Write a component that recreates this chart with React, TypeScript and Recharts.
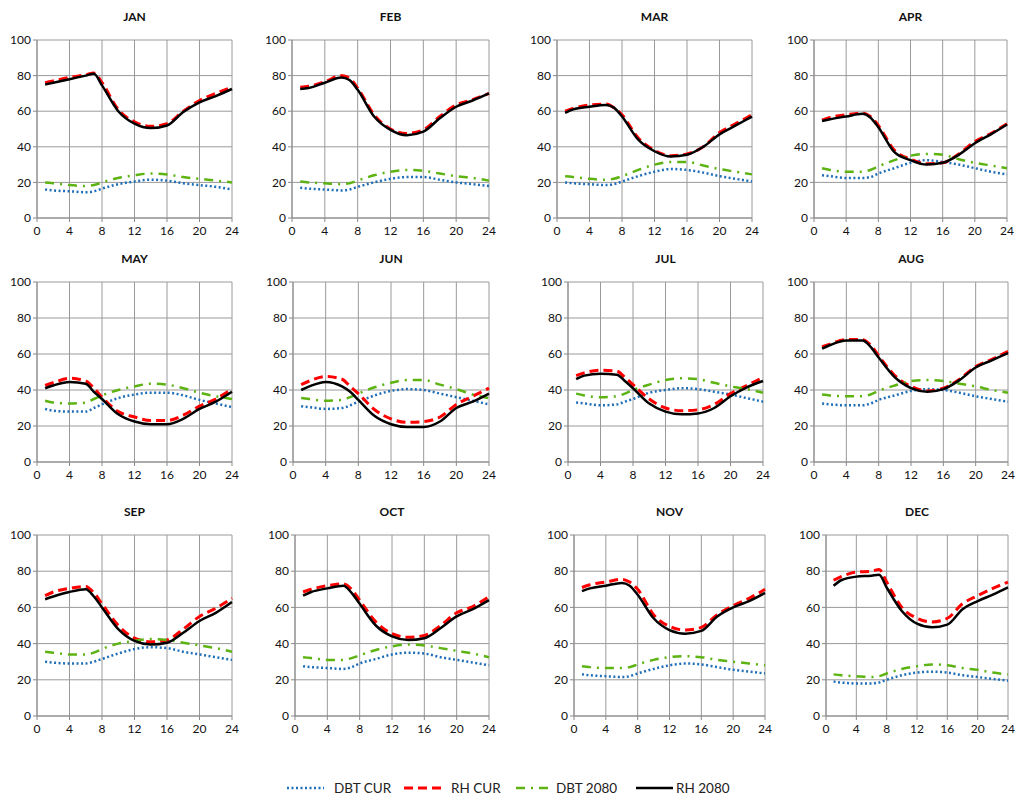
import { LineChart, Line, XAxis, YAxis, CartesianGrid } from 'recharts';

// hours sampled along each daily profile
const HOURS = [1, 2, 4, 6, 7, 8, 10, 12, 14, 16, 18, 20, 22, 24];
const MONTHS = ['JAN', 'FEB', 'MAR', 'APR', 'MAY', 'JUN', 'JUL', 'AUG', 'SEP', 'OCT', 'NOV', 'DEC'];
const X_TICKS = [0, 4, 8, 12, 16, 20, 24];
const Y_TICKS = [0, 20, 40, 60, 80, 100];

const DBT_CUR = [
  [16, 15.5, 15, 14.5, 15, 16.5, 19, 20.5, 21.5, 21, 19.5, 18.5, 17.5, 16],
  [17, 16.5, 16, 15.5, 16, 17.5, 20, 22, 23, 23, 21.5, 20, 19, 18],
  [20, 19.5, 19, 18.5, 19, 20.5, 23.5, 26, 27.5, 27, 25.5, 23.5, 22, 20.5],
  [24, 23.5, 22.5, 22.5, 23, 25, 28, 31, 32.5, 31.5, 30, 28, 26, 24.5],
  [29.5, 28.5, 28, 28, 30, 32, 35.5, 37.5, 38.5, 38.5, 37, 34.5, 32.5, 30.5],
  [31, 30.5, 29.5, 30, 31.5, 33.5, 37, 39.5, 40.5, 40, 38, 36, 34, 32],
  [33, 32.5, 31.5, 32, 33.5, 35, 38.5, 40, 41, 40.5, 39, 37.5, 35.5, 33.5],
  [32.5, 32, 31.5, 31.5, 32.5, 34.5, 37, 39.5, 40.5, 40, 38.5, 36.5, 35, 33.5],
  [30, 29.5, 29, 29, 30, 31.5, 34.5, 37, 38, 37.5, 35.5, 34, 32.5, 31],
  [27.5, 27, 26.5, 26, 27, 29, 31.5, 34, 35, 34.5, 32.5, 31, 29.5, 28],
  [23, 22.5, 22, 21.5, 22, 23.5, 26, 28, 29, 28.5, 27, 25.5, 24.5, 23.5],
  [19, 18.5, 18, 18, 18.5, 20, 22.5, 24, 24.5, 24, 22.5, 21.5, 20.5, 19.5],
];

const RH_CUR = [
  [76, 77, 79, 80.5, 81.5, 76, 61, 54, 51.5, 53, 60, 66, 70, 73.5],
  [73.5, 74, 76.5, 80, 78.5, 73, 58, 50, 47.5, 49.5, 57, 63.5, 66.5, 70],
  [60, 61.5, 63.5, 64, 62, 58, 45, 38, 35, 36, 40, 48, 53, 58],
  [55, 56.5, 58, 59, 57, 52, 38, 33, 30.5, 31, 36, 43, 47.5, 53],
  [42.5, 44, 46.5, 45, 41, 36, 28, 25, 23, 23, 26, 31, 35, 40.5],
  [43, 45, 47.5, 46, 42, 38, 29, 24, 22, 22.5, 25, 32, 36.5, 41],
  [48, 49.5, 51, 50.5, 47, 43, 35, 30, 28.5, 29, 32, 38, 42.5, 47],
  [64, 65.5, 68, 68, 65, 59, 48, 42, 39.5, 41, 46, 53, 57, 61.5],
  [66.5, 68.5, 70.5, 71.5, 68, 62, 50, 43, 41, 42, 48, 55, 59.5, 65],
  [68.5, 70, 72, 73, 70, 64, 52, 45.5, 43.5, 44.5, 50, 57, 60.5, 66],
  [71, 72.5, 74, 75.5, 74, 70, 56, 49.5, 47.5, 49, 56, 61, 65, 70],
  [75, 77, 79.5, 80, 81, 74, 60, 54, 52, 54, 62, 66.5, 70.5, 74],
];

const DBT_2080 = [
  [20, 19.5, 18.5, 18, 18.5, 20, 22.5, 24, 25, 24.5, 23, 22, 21, 20],
  [20.5, 20, 19.5, 19, 19.5, 21, 24, 26, 27, 26.5, 25, 23.5, 22.5, 21],
  [23.5, 23, 22, 21.5, 22, 23.5, 27, 30, 31.5, 31.5, 29.5, 27.5, 26, 24.5],
  [28, 27, 26, 26, 27, 29, 32.5, 35, 36, 35.5, 33, 31, 29.5, 28],
  [34, 33, 32.5, 33, 35, 37, 40, 42, 43.5, 43, 41, 38.5, 36.5, 35],
  [35.5, 35, 34, 34.5, 36, 38, 41.5, 44, 45.5, 45.5, 43, 40.5, 37.5, 35.5],
  [38, 37, 36, 36.5, 38, 40, 43, 45.5, 46.5, 46, 44, 42, 40.5, 38.5],
  [37.5, 37, 36.5, 36.5, 37.5, 39.5, 42.5, 45, 45.5, 45, 43.5, 42, 40, 38.5],
  [35.5, 35, 34, 34, 35, 37, 40, 41.5, 42.5, 42, 40.5, 39, 37.5, 35.5],
  [32.5, 32, 31, 31, 32, 33.5, 36.5, 38.5, 39.5, 39, 37.5, 36, 34.5, 32.5],
  [27.5, 27, 26.5, 26.5, 27, 28.5, 31, 32.5, 33, 32.5, 31, 30, 29, 28],
  [23, 22.5, 22, 21.5, 22, 23.5, 26, 27.5, 28.5, 28, 26.5, 25.5, 24, 23],
];

const RH_2080 = [
  [75, 76, 78, 80, 81, 74.5, 60, 53, 50.5, 52, 59.5, 65, 68.5, 72.5],
  [72.5, 73, 76, 79, 77.5, 72, 57, 49.5, 46.5, 48.5, 56, 62.5, 66, 70],
  [59, 61, 62.5, 63.5, 62, 57, 44, 37.5, 34.5, 35.5, 40, 47, 52, 57],
  [54.5, 55.5, 57, 58.5, 56.5, 51, 37, 32.5, 30, 31, 35.5, 42, 47, 52.5],
  [41, 42.5, 44.5, 43.5, 39, 35, 26.5, 22.5, 21, 21, 24, 29.5, 33.5, 39],
  [40, 42, 44.5, 42, 39, 34.5, 25.5, 21, 19.5, 19.5, 22.5, 30, 33.5, 38],
  [46, 48, 49, 48.5, 45, 41, 32.5, 28, 26.5, 27, 30, 36.5, 41.5, 45],
  [63, 65, 67.5, 67.5, 64, 58, 47, 41, 39, 40.5, 45.5, 52.5, 56.5, 60.5],
  [64.5, 66, 68.5, 70, 66, 60, 48, 41.5, 39.5, 40.5, 46, 52.5, 57, 63],
  [66.5, 68.5, 70.5, 72, 68, 62, 50, 44, 42, 43, 48.5, 55, 59, 64],
  [69, 70.5, 72, 73.5, 72, 67, 54, 47.5, 45.5, 47, 55, 60, 63.5, 68],
  [72, 75, 77, 77.5, 78, 71, 58, 51, 49, 50.5, 59, 63.5, 67, 71],
];

const SERIES = [
  { name: 'DBT CUR', data: DBT_CUR, color: '#1f6fb8', dash: '2 2.5', width: 2.5 },
  { name: 'RH CUR', data: RH_CUR, color: '#ff0000', dash: '9 5', width: 3 },
  { name: 'DBT 2080', data: DBT_2080, color: '#5cb312', dash: '9 6 2 6', width: 2.5 },
  { name: 'RH 2080', data: RH_2080, color: '#000000', dash: undefined, width: 2.5 },
];

// plot-area boxes: [left, right] per panel, [top, bottom] per row
const PLOT_X = [
  [37, 232], [292, 489], [557, 752], [814, 1007],
  [37, 232], [293, 489], [568, 763], [814, 1008],
  [37, 232], [295, 489], [574, 765], [826, 1008],
];
const PLOT_Y = [[40, 218], [282, 462], [535, 716]];

const FONT = 'Lato, "Open Sans", sans-serif';
const Y_W = 32;
const TOP_M = 10;
const X_H = 26;

function Panel({ idx }: { idx: number }) {
  const [x0, x1] = PLOT_X[idx];
  const [y0, y1] = PLOT_Y[Math.floor(idx / 4)];
  const w = x1 - x0;
  const h = y1 - y0;
  const rows = HOURS.map((hour, i) => {
    const r: Record<string, number> = { hour };
    SERIES.forEach((s) => { r[s.name] = s.data[idx][i]; });
    return r;
  });
  const tick = { fontSize: 12, fill: '#111', fontFamily: FONT };

  return (
    <>
      <div
        style={{
          position: 'absolute', left: x0, width: w, top: y0 - 31, textAlign: 'center',
          fontFamily: FONT, fontWeight: 700, fontSize: 12, color: '#111',
        }}
      >
        {MONTHS[idx]}
      </div>
      <div style={{ position: 'absolute', left: x0 - Y_W, top: y0 - TOP_M }}>
        <LineChart
          width={w + Y_W + 8}
          height={h + TOP_M + X_H}
          data={rows}
          margin={{ top: TOP_M, right: 8, left: 0, bottom: 0 }}
        >
          <CartesianGrid stroke="#9a9a9a" strokeWidth={1} />
          <XAxis
            dataKey="hour" type="number" domain={[0, 24]} ticks={X_TICKS}
            height={X_H} tick={tick} tickSize={4} tickMargin={4}
            stroke="#8a8a8a" interval={0}
          />
          <YAxis
            type="number" domain={[0, 100]} ticks={Y_TICKS} width={Y_W}
            tick={tick} tickSize={4} tickMargin={2} stroke="#8a8a8a" interval={0}
          />
          {SERIES.map((s) => (
            <Line
              key={s.name}
              dataKey={s.name}
              type="monotone"
              stroke={s.color}
              strokeWidth={s.width}
              strokeDasharray={s.dash}
              dot={false}
              activeDot={false}
              isAnimationActive={false}
            />
          ))}
        </LineChart>
      </div>
    </>
  );
}

const LEGEND_X = [286, 403, 515, 635];

export default function App() {
  return (
    <div style={{ position: 'absolute', left: 0, top: 0, width: 1024, height: 809, background: '#fff' }}>
      {MONTHS.map((m, i) => (
        <Panel key={m} idx={i} />
      ))}
      {SERIES.map((s, i) => (
        <div
          key={s.name}
          style={{
            position: 'absolute', left: LEGEND_X[i], top: 780, display: 'flex', alignItems: 'center',
            fontFamily: FONT, fontSize: 13.5, color: '#222',
          }}
        >
          <svg width={40} height={14}>
            <line x1={1} x2={38} y1={7} y2={7} stroke={s.color} strokeWidth={s.width} strokeDasharray={s.dash} />
          </svg>
          <span style={{ marginLeft: i === 0 || i === 1 ? 8 : 1 }}>{s.name}</span>
        </div>
      ))}
    </div>
  );
}
